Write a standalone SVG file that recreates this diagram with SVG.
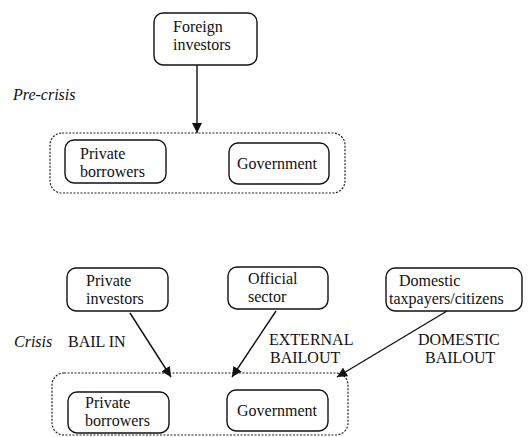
<svg xmlns="http://www.w3.org/2000/svg" width="530" height="437" viewBox="0 0 530 437">
<style>
text{font-family:'Liberation Serif','Times New Roman','DejaVu Serif',serif;font-size:16px;fill:#111}
.it{font-style:italic}
.box{fill:#fff;stroke:#111;stroke-width:1.4}
.grp{fill:none;stroke:#222;stroke-width:1.2;stroke-dasharray:2 1.5}
.ln{stroke:#111;stroke-width:1.4;fill:none}
</style>
<defs>
<marker id="ah" viewBox="0 0 10 10" refX="10" refY="5" markerWidth="10" markerHeight="10" markerUnits="userSpaceOnUse" orient="auto"><path d="M0,0 L10,5 L0,10 z" fill="#111"/></marker>
</defs>
<rect width="530" height="437" fill="#fff"/>
<g id="groups">
<rect class="grp" x="50" y="133" width="295" height="60" rx="12"/>
<rect class="grp" x="52" y="373" width="296" height="62" rx="12"/>
</g>
<g id="foreign"><rect class="box" x="154" y="13" width="103" height="52" rx="9"/><text x="173" y="32">Foreign</text><text x="173" y="50">investors</text></g>
<g id="pb1"><rect class="box" x="65" y="140" width="101" height="43" rx="9"/><text x="80" y="159">Private</text><text x="80" y="177">borrowers</text></g>
<g id="gov1"><rect class="box" x="229" y="143" width="100" height="41" rx="9"/><text x="237" y="169">Government</text></g>
<g id="pi"><rect class="box" x="67" y="268" width="101" height="43" rx="9"/><text x="86" y="286">Private</text><text x="86" y="304">investors</text></g>
<g id="os"><rect class="box" x="228" y="267" width="100" height="42" rx="9"/><text x="248" y="284">Official</text><text x="248" y="302">sector</text></g>
<g id="dt"><rect class="box" x="386" y="268" width="136" height="43" rx="9"/><text x="399" y="286">Domestic</text><text x="389" y="304">taxpayers/citizens</text></g>
<g id="pb2"><rect class="box" x="68" y="392" width="101" height="41" rx="9"/><text x="85" y="408">Private</text><text x="85" y="426">borrowers</text></g>
<g id="gov2"><rect class="box" x="227" y="390" width="101" height="41" rx="9"/><text x="237" y="416">Government</text></g>
<g id="labels">
<text class="it" x="13" y="100">Pre-crisis</text>
<text class="it" x="14" y="347">Crisis</text>
<text x="68" y="347">BAIL IN</text>
<text x="269" y="345">EXTERNAL</text>
<text x="270" y="363">BAILOUT</text>
<text x="418" y="345">DOMESTIC</text>
<text x="425" y="363">BAILOUT</text>
</g>
<g id="connectors">
<line class="ln" x1="197" y1="65" x2="197" y2="133" marker-end="url(#ah)"/>
<line class="ln" x1="130" y1="313" x2="171" y2="377" marker-end="url(#ah)"/>
<line class="ln" x1="276" y1="311" x2="232" y2="377" marker-end="url(#ah)"/>
<line class="ln" x1="447" y1="311" x2="337" y2="377" marker-end="url(#ah)"/>
</g>
</svg>
